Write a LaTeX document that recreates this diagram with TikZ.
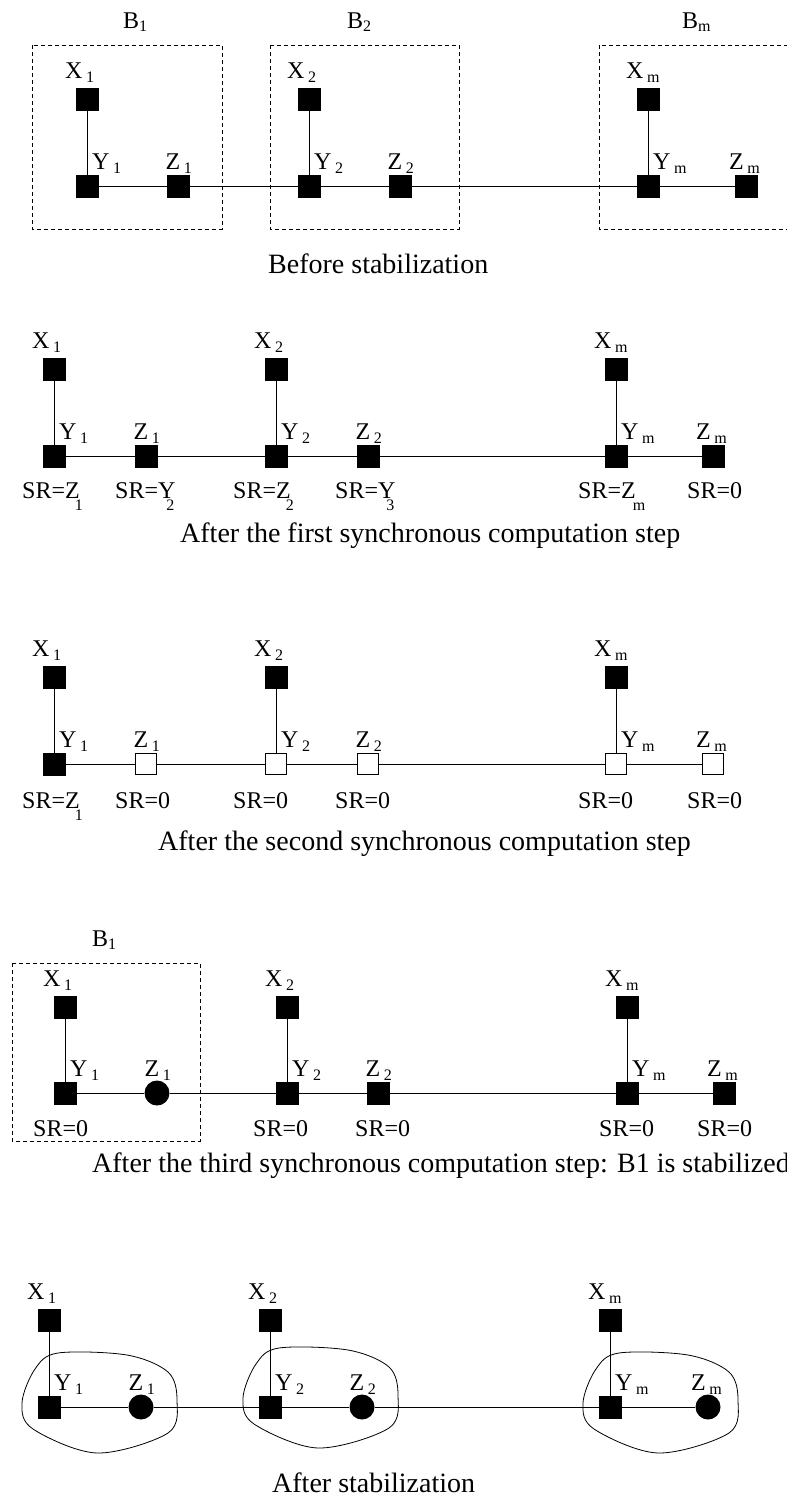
\documentclass[tikz,border=0pt]{standalone}
\usepackage{fontspec}
\setmainfont{Liberation Serif}
\usetikzlibrary{calc}
\newcommand{\lbl}[2]{#1\hspace{3.5pt}\raisebox{-4pt}{\fontsize{16pt}{16pt}\selectfont #2}}
\newcommand{\srl}[3]{SR=#1\kern#3pt\raisebox{-12pt}{\fontsize{16pt}{16pt}\selectfont #2}}
\newcommand{\blab}[1]{B\raisebox{-3pt}{\fontsize{16pt}{16pt}\selectfont #1}}
\tikzset{
  sq/.style={rectangle, draw, fill=black, minimum size=22pt, inner sep=0pt},
  wsq/.style={rectangle, draw, line width=0.8pt, fill=white, minimum size=21pt, inner sep=0pt},
  dot/.style={circle, fill=black, minimum size=25pt, inner sep=0pt},
  lab/.style={font=\fontsize{24pt}{24pt}\selectfont, inner sep=0pt},
  captxt/.style={font=\fontsize{28pt}{28pt}\selectfont, inner sep=0pt, anchor=base west},
  blockbox/.style={draw, dash pattern=on 4pt off 3pt, line width=0.8pt},
  edge/.style={line width=0.8pt}
}
% group: #1 prefix, #2 subscript, #3 x of X/Y, #4 y of X, #5 y of Y, #6 x of Z, #7 style Y, #8 style Z
\newcommand{\grp}[8]{%
  \node[sq] (#1X) at (#3,#4) {};
  \node[#7] (#1Y) at (#3,#5) {};
  \node[#8] (#1Z) at (#6,#5) {};
  \draw[edge] (#1X) -- (#1Y);
  \draw[edge] (#1Y) -- (#1Z);
  \node[lab, anchor=base west] (#1Xl) at ([xshift=-22pt, yshift=21pt]#1X.center) {\lbl{X}{#2}};
  \node[lab, anchor=base west] (#1Yl) at ([xshift=5pt, yshift=17pt]#1Y.center) {\lbl{Y}{#2}};
  \node[lab, anchor=base east] (#1Zl) at ([xshift=14pt, yshift=17pt]#1Z.center) {\lbl{Z}{#2}};
}
\begin{document}
\begin{tikzpicture}[x=1pt,y=-1pt]
\useasboundingbox (0,0) rectangle (787,1497);
\clip (0,0) rectangle (787,1497);
\fill[white] (0,0) rectangle (787,1497);

% ---------- Panel 1: before stabilization ----------
\draw[blockbox] (32,45) rectangle (222,229);
\draw[blockbox] (270,45) rectangle (459,229);
\draw[blockbox] (599,45) rectangle (800,229);
\node[lab, anchor=base west] (aB1) at (123,28) {\blab{1}};
\node[lab, anchor=base west] (aB2) at (347,28) {\blab{2}};
\node[lab, anchor=base west] (aBm) at (682,28) {\blab{m}};
\grp{a1}{1}{87}{99}{186}{178}{sq}{sq}
\grp{a2}{2}{309}{99}{186}{400}{sq}{sq}
\grp{am}{m}{648}{99}{186}{746}{sq}{sq}
\draw[edge] (a1Z) -- (a2Y);
\draw[edge] (a2Z) -- (amY);
\node[captxt] (acap) at (268,273) {Before stabilization};

% ---------- Panel 2: first step ----------
\grp{b1}{1}{54}{369}{456}{146}{sq}{sq}
\grp{b2}{2}{276}{369}{456}{368}{sq}{sq}
\grp{bm}{m}{616}{369}{456}{713}{sq}{sq}
\draw[edge] (b1Z) -- (b2Y);
\draw[edge] (b2Z) -- (bmY);
\node[lab, anchor=base west] (bs1) at (22,498) {\srl{Z}{1}{-5}};
\node[lab, anchor=base west] (bs2) at (115,498) {\srl{Y}{2}{-9}};
\node[lab, anchor=base west] (bs3) at (233,498) {\srl{Z}{2}{-5}};
\node[lab, anchor=base west] (bs4) at (335,498) {\srl{Y}{3}{-9}};
\node[lab, anchor=base west] (bs5) at (578,498) {\srl{Z}{m}{-3}};
\node[lab, anchor=base west] (bs6) at (687,498) {SR=0};
\node[captxt] (bcap) at (180,542) {After the first synchronous computation step};

% ---------- Panel 3: second step ----------
\grp{c1}{1}{54}{677}{764}{146}{sq}{wsq}
\grp{c2}{2}{276}{677}{764}{368}{wsq}{wsq}
\grp{cm}{m}{616}{677}{764}{713}{wsq}{wsq}
\draw[edge] (c1Z) -- (c2Y);
\draw[edge] (c2Z) -- (cmY);
\node[lab, anchor=base west] (cs1) at (22,808) {\srl{Z}{1}{-5}};
\node[lab, anchor=base west] (cs2) at (115,808) {SR=0};
\node[lab, anchor=base west] (cs3) at (233,808) {SR=0};
\node[lab, anchor=base west] (cs4) at (335,808) {SR=0};
\node[lab, anchor=base west] (cs5) at (578,808) {SR=0};
\node[lab, anchor=base west] (cs6) at (687,808) {SR=0};
\node[captxt] (ccap) at (158,850) {After the second synchronous computation step};

% ---------- Panel 4: third step ----------
\draw[blockbox] (12,963) rectangle (200,1141);
\node[lab, anchor=base west] (dB1) at (92,946) {\blab{1}};
\grp{d1}{1}{65}{1007}{1093}{157}{sq}{dot}
\grp{d2}{2}{287}{1007}{1093}{378}{sq}{sq}
\grp{dm}{m}{627}{1007}{1093}{724}{sq}{sq}
\draw[edge] (d1Z) -- (d2Y);
\draw[edge] (d2Z) -- (dmY);
\node[lab, anchor=base west] (ds1) at (33,1136) {SR=0};
\node[lab, anchor=base west] (ds2) at (253,1136) {SR=0};
\node[lab, anchor=base west] (ds3) at (355,1136) {SR=0};
\node[lab, anchor=base west] (ds4) at (599,1136) {SR=0};
\node[lab, anchor=base west] (ds5) at (697,1136) {SR=0};
\node[captxt] (dcap) at (92,1172) {After the third synchronous computation step: B1 is stabilized};

% ---------- Panel 5: after stabilization ----------
\grp{e1}{1}{49}{1320}{1407}{141}{sq}{dot}
\grp{e2}{2}{270}{1320}{1407}{362}{sq}{dot}
\grp{em}{m}{610}{1320}{1407}{708}{sq}{dot}
\draw[edge] (e1Z) -- (e2Y);
\draw[edge] (e2Z) -- (emY);
\begin{scope}[shift={(e1Y.center)}]
  \draw[edge] plot[smooth cycle, tension=0.55] coordinates {(9,-54) (78,-52) (119,-35) (128,-7) (119,26) (48,46) (-16,22) (-27,-4) (-14,-38)};
\end{scope}
\begin{scope}[shift={($(e2Y.center)+(0,-5)$)}]
  \draw[edge] plot[smooth cycle, tension=0.55] coordinates {(9,-54) (78,-52) (119,-35) (128,-7) (119,26) (48,46) (-16,22) (-27,-4) (-14,-38)};
\end{scope}
\begin{scope}[shift={(emY.center)}]
  \draw[edge] plot[smooth cycle, tension=0.55] coordinates {(9,-54) (78,-52) (119,-35) (128,-7) (119,26) (48,46) (-16,22) (-27,-4) (-14,-38)};
\end{scope}
\node[captxt] (ecap) at (272,1492) {After stabilization};
\end{tikzpicture}
\end{document}
